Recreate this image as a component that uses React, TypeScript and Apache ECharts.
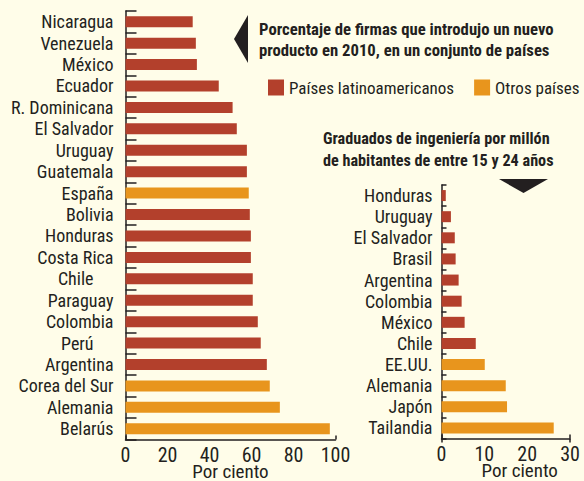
import React, { useEffect, useRef } from "react";
import * as echarts from "echarts";

const leftCategories = [
  "Nicaragua", "Venezuela", "México", "Ecuador", "R. Dominicana", "El Salvador",
  "Uruguay", "Guatemala", "España", "Bolivia", "Honduras", "Costa Rica", "Chile",
  "Paraguay", "Colombia", "Perú", "Argentina", "Corea del Sur", "Alemania", "Belarús",
];
const leftValues = [32, 33.5, 34, 44.4, 51, 53, 57.8, 57.8, 58.7, 59.2, 59.7, 59.7, 60.6, 60.6, 63, 64.4, 67.3, 68.7, 73.5, 97.3];
const leftGroups = ["L", "L", "L", "L", "L", "L", "L", "L", "O", "L", "L", "L", "L", "L", "L", "L", "L", "O", "O", "O"];

const rightCategories = [
  "Honduras", "Uruguay", "El Salvador", "Brasil", "Argentina", "Colombia",
  "México", "Chile", "EE.UU.", "Alemania", "Japón", "Tailandia",
];
const rightValues = [1.0, 2.2, 3.1, 3.3, 4.0, 4.7, 5.4, 8.0, 10.1, 15.0, 15.3, 26.2];
const rightGroups = ["L", "L", "L", "L", "L", "L", "L", "L", "O", "O", "O", "O"];

const seriesNames = ["Países latinoamericanos", "Otros países"];
const titleLines = ["Porcentaje de firmas que introdujo un nuevo", "producto en 2010, en un conjunto de países"];
const subtitleLines = ["Graduados de ingeniería por millón", "de habitantes de entre 15 y 24 años"];
const axisName = "Por ciento";
const shiftedLabels = ["Chile", "Perú"];

const RED = "#b3402c";
const ORANGE = "#e8951d";
const DARK = "#231f20";
const BG = "#fffde9";
const FONT = "'Liberation Sans Narrow', 'Roboto Condensed', 'DejaVu Sans Condensed', Roboto, sans-serif";
const CAT_SIZE = 18;

export default function App() {
  const ref = useRef<HTMLDivElement>(null);
  useEffect(() => {
    if (!ref.current) return;
    const chart = echarts.init(ref.current, undefined, { renderer: "svg" });
    const catLabel = (margin: number) => ({
      interval: 0,
      fontSize: CAT_SIZE,
      fontFamily: FONT,
      color: DARK,
      margin,
    });
    const valueAxisBase = {
      type: "value" as const,
      position: "bottom" as const,
      splitLine: { show: false },
    };
    const tickOnly = (gridIndex: number, max: number, inside: boolean) => ({
      ...valueAxisBase,
      gridIndex,
      min: 0,
      max,
      interval: max,
      axisLine: { show: false },
      axisLabel: { show: false },
      axisTick: { show: true, inside, length: 4, lineStyle: { color: DARK, width: 1.5 } },
    });
    const mk = (name: string, group: string, vals: number[], groups: string[], idx: number) => ({
      name,
      type: "bar",
      xAxisIndex: idx === 0 ? 0 : 2,
      yAxisIndex: idx,
      barWidth: 11,
      barGap: "-100%",
      itemStyle: { color: group === "L" ? RED : ORANGE },
      data: vals.map((v, i) => (groups[i] === group ? v : "-")),
    });
    const valueLabel = { fontSize: 20, lineHeight: 16, color: DARK, fontFamily: FONT, margin: 7 };
    const nameStyle = { fontSize: 19, lineHeight: 16, color: DARK, fontFamily: FONT };
    chart.setOption({
      animation: false,
      backgroundColor: BG,
      textStyle: { fontFamily: FONT },
      legend: {
        left: 268,
        top: 79,
        width: 330,
        padding: 0,
        itemWidth: 16,
        itemHeight: 16,
        itemGap: 20,
        icon: "rect",
        selectedMode: false,
        textStyle: { fontSize: 17, color: DARK, fontFamily: FONT },
        data: seriesNames,
      },
      grid: [
        { left: 125.5, top: 11, width: 210, height: 428.5, containLabel: false, outerBoundsMode: "none" },
        { left: 441.5, top: 185, width: 128.5, height: 253.5, containLabel: false, outerBoundsMode: "none" },
      ],
      xAxis: [
        {
          ...valueAxisBase,
          gridIndex: 0,
          min: 0,
          max: 100,
          interval: 20,
          axisLine: { show: true, lineStyle: { color: DARK, width: 1.5 } },
          axisTick: { show: false },
          axisLabel: valueLabel,
          name: axisName,
          nameLocation: "middle",
          nameGap: 24,
          nameMoveOverlap: false,
          nameTextStyle: nameStyle,
        },
        tickOnly(0, 100, true),
        {
          ...valueAxisBase,
          gridIndex: 1,
          min: 0,
          max: 30,
          interval: 10,
          axisLine: { show: true, lineStyle: { color: DARK, width: 1.5 } },
          axisTick: { show: false },
          axisLabel: valueLabel,
          name: axisName,
          nameLocation: "middle",
          nameGap: 24,
          nameMoveOverlap: false,
          nameTextStyle: { ...nameStyle, padding: [0, 0, 0, 28] },
        },
        tickOnly(1, 30, true),
        tickOnly(1, 30, false),
      ],
      yAxis: [
        {
          type: "category",
          gridIndex: 0,
          inverse: true,
          data: leftCategories,
          axisLine: { show: true, lineStyle: { color: DARK, width: 1.5 } },
          axisTick: { show: true, inside: true, length: 11, lineStyle: { color: DARK, width: 1.5 } },
          axisLabel: {
            ...catLabel(12),
            formatter: (v: string) => (shiftedLabels.includes(v) ? `{pad|${v}}` : v),
            rich: { pad: { fontSize: CAT_SIZE, fontFamily: FONT, color: DARK, padding: [0, 20, 0, 0] } },
          },
        },
        {
          type: "category",
          gridIndex: 1,
          inverse: true,
          data: rightCategories,
          axisLine: { show: true, lineStyle: { color: DARK, width: 1.5 } },
          axisTick: { show: true, inside: true, length: 5, lineStyle: { color: DARK, width: 1.5 } },
          axisLabel: catLabel(9),
        },
      ],
      series: [
        mk(seriesNames[0], "L", leftValues, leftGroups, 0),
        mk(seriesNames[1], "O", leftValues, leftGroups, 0),
        mk(seriesNames[0], "L", rightValues, rightGroups, 1),
        mk(seriesNames[1], "O", rightValues, rightGroups, 1),
      ],
      graphic: [
        { type: "polygon", shape: { points: [[234, 39], [248, 15], [248, 63]] }, style: { fill: DARK } },
        { type: "polygon", shape: { points: [[499, 179], [548, 179], [523.5, 193]] }, style: { fill: DARK } },
        ...titleLines.map((t, i) => ({
          type: "text",
          x: 259,
          y: 29 + i * 21,
          style: { text: t, fontSize: 16.7, fontWeight: "bold", fontFamily: FONT, fill: DARK, verticalAlign: "middle" },
        })),
        ...subtitleLines.map((t, i) => ({
          type: "text",
          x: 323,
          y: 138 + i * 22,
          style: { text: t, fontSize: 16.2, fontWeight: "bold", fontFamily: FONT, fill: DARK, verticalAlign: "middle" },
        })),
      ],
    });
    return () => chart.dispose();
  }, []);
  return <div ref={ref} style={{ position: "absolute", left: 0, top: 0, width: 584, height: 481 }} />;
}
